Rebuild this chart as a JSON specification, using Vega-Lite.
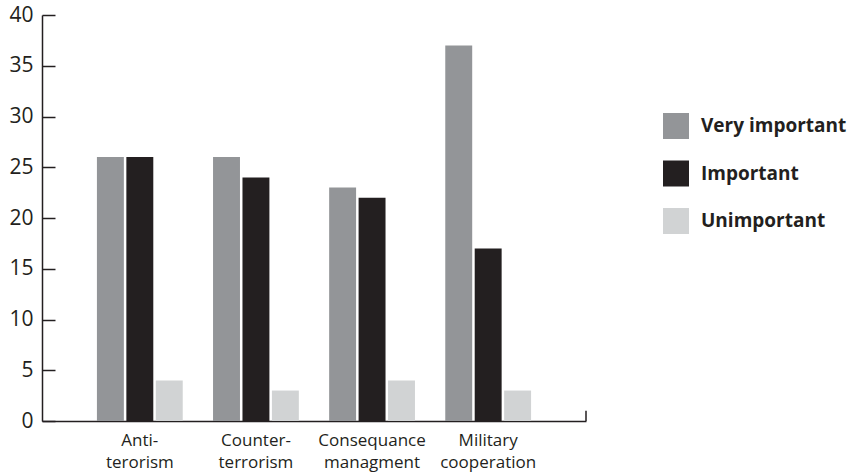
{
  "$schema": "https://vega.github.io/schema/vega-lite/v6.json",
  "autosize": {"type": "none"},
  "padding": {"left": 42, "top": 15, "right": 273, "bottom": 55},
  "width": 544,
  "height": 406,
  "background": "white",
  "config": {
    "view": {"stroke": null},
    "font": "Open Sans",
    "axis": {"grid": false, "domainColor": "#231f20", "domainWidth": 1.5, "tickColor": "#231f20", "tickWidth": 1.5, "labelColor": "#231f20", "titleColor": "#231f20"}
  },
  "data": {
    "values": [
      {"category": "Anti-terorism", "group": "Very important", "value": 26},
      {"category": "Anti-terorism", "group": "Important", "value": 26},
      {"category": "Anti-terorism", "group": "Unimportant", "value": 4},
      {"category": "Counter-terrorism", "group": "Very important", "value": 26},
      {"category": "Counter-terrorism", "group": "Important", "value": 24},
      {"category": "Counter-terrorism", "group": "Unimportant", "value": 3},
      {"category": "Consequance managment", "group": "Very important", "value": 23},
      {"category": "Consequance managment", "group": "Important", "value": 22},
      {"category": "Consequance managment", "group": "Unimportant", "value": 4},
      {"category": "Military cooperation", "group": "Very important", "value": 37},
      {"category": "Military cooperation", "group": "Important", "value": 17},
      {"category": "Military cooperation", "group": "Unimportant", "value": 3}
    ]
  },
  "layer": [
    {
      "mark": {"type": "bar"},
      "encoding": {
        "x": {
          "field": "category", "type": "nominal", "sort": null,
          "scale": {"paddingInner": 0.261, "paddingOuter": 0.473},
          "axis": {"title": null, "ticks": false, "labelAngle": 0, "labelFontSize": 17, "labelPadding": 11, "labelLineHeight": 22,
                   "labelExpr": "split(replace(replace(datum.label, '-', '-|'), ' ', '|'), '|')"}
        },
        "xOffset": {
          "field": "group", "type": "nominal",
          "sort": ["Very important", "Important", "Unimportant"],
          "scale": {"paddingInner": 0.085, "paddingOuter": 0}
        },
        "y": {
          "field": "value", "type": "quantitative",
          "scale": {"domain": [0, 40], "nice": false},
          "axis": {"title": null, "values": [0, 5, 10, 15, 20, 25, 30, 35, 40], "tickSize": -13, "labelFontSize": 21, "labelPadding": 22}
        },
        "color": {
          "field": "group", "type": "nominal",
          "sort": ["Very important", "Important", "Unimportant"],
          "scale": {"domain": ["Very important", "Important", "Unimportant"], "range": ["#939598", "#231f20", "#d1d3d4"]},
          "legend": {
            "title": null, "orient": "none", "legendX": 621, "legendY": 98, "padding": 0,
            "symbolType": "square", "symbolSize": 676, "symbolStrokeWidth": 0, "symbolOpacity": 1,
            "labelFontSize": 19, "labelFontWeight": "bold", "labelColor": "#231f20", "labelOffset": 12, "rowPadding": 21.5
          }
        }
      }
    },
    {
      "mark": {"type": "rule", "color": "#231f20", "strokeWidth": 1.5},
      "data": {"values": [{"a": 0, "b": 1}]},
      "encoding": {
        "x": {"value": "width"},
        "y": {"field": "a", "type": "quantitative"},
        "y2": {"field": "b"}
      }
    }
  ]
}
